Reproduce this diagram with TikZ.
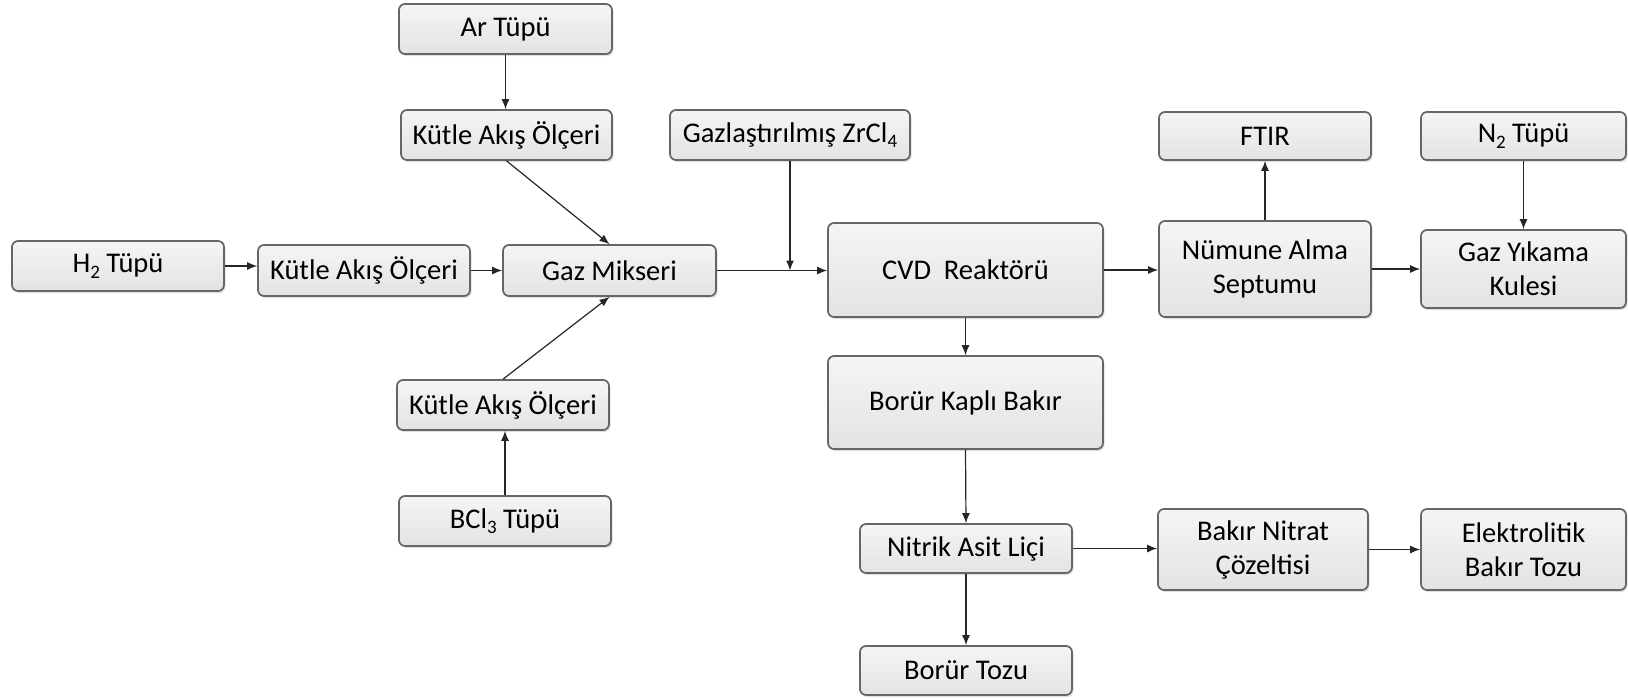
\documentclass[tikz,border=0pt]{standalone}
\usepackage{fontspec}
\setmainfont{Carlito}
\usetikzlibrary{arrows.meta,shadows}
\newcommand\lowidx[1]{\raisebox{-0.4ex}{\fontsize{19}{19}\selectfont #1}}
\begin{document}
\begin{tikzpicture}[x=1pt,y=-1pt,
  bx/.style={draw=black!60, line width=1.7pt, rounded corners=6pt,
    top color=gray!8, bottom color=gray!22,
    drop shadow={shadow xshift=1.5pt, shadow yshift=-2pt, opacity=0.25},
    align=center, inner sep=2pt, text=black,
    font=\fontsize{28.5}{34}\selectfont},
  arr/.style={draw=black!85, line width=1.2pt, -{Latex[length=10pt,width=8pt]}}]
\useasboundingbox (0,0) rectangle (1628,697);
\node[bx, minimum width=213pt, minimum height=50pt] (ar)   at (505.5,29)   {Ar Tüpü};
\node[bx, minimum width=211pt, minimum height=50pt] (k1)   at (506.5,135)  {Kütle Akış Ölçeri};
\node[bx, minimum width=240pt, minimum height=50pt] (gzr)  at (790,135)    {Gazlaştırılmış ZrCl\lowidx{4}};
\node[bx, minimum width=212pt, minimum height=48pt] (ftir) at (1265,136)   {FTIR};
\node[bx, minimum width=205pt, minimum height=48pt] (n2)   at (1523.5,136) {N\lowidx{2} Tüpü};
\node[bx, minimum width=212pt, minimum height=50pt] (h2)   at (118,266)    {H\lowidx{2} Tüpü};
\node[bx, minimum width=212pt, minimum height=51pt] (k2)   at (364,270.5)  {Kütle Akış Ölçeri};
\node[bx, minimum width=213pt, minimum height=51pt] (mix)  at (609.5,270.5){Gaz Mikseri};
\node[bx, minimum width=275pt, minimum height=94pt] (cvd)  at (965.5,270)  {CVD\ \ Reaktörü};
\node[bx, minimum width=212pt, minimum height=96pt] (num)  at (1265,269)   {Nümune Alma\\Septumu};
\node[bx, minimum width=205pt, minimum height=78pt] (gy)   at (1523.5,269) {Gaz Yıkama\\Kulesi};
\node[bx, minimum width=275pt, minimum height=93pt] (bkb)  at (965.5,402.5){Borür Kaplı Bakır};
\node[bx, minimum width=212pt, minimum height=50pt] (k3)   at (503,405)    {Kütle Akış Ölçeri};
\node[bx, minimum width=212pt, minimum height=50pt] (bcl)  at (505,521)    {BCl\lowidx{3} Tüpü};
\node[bx, minimum width=212pt, minimum height=49pt] (nit)  at (966,548.5)  {Nitrik Asit Liçi};
\node[bx, minimum width=210pt, minimum height=81pt] (bn)   at (1263,549.5) {Bakır Nitrat\\Çözeltisi};
\node[bx, minimum width=205pt, minimum height=81pt] (el)   at (1523.5,549.5){Elektrolitik\\Bakır Tozu};
\node[bx, minimum width=212pt, minimum height=49pt] (bt)   at (966,670.5)  {Borür Tozu};
\coordinate (j) at (gzr.south |- mix.east);
\draw[arr] (ar.south) -- (ar.south |- k1.north);
\draw[arr] (k1.south) -- (mix.north);
\draw[arr] (k3.north) -- (mix.south);
\draw[arr] (bcl.north) -- (bcl.north |- k3.south);
\draw[arr] (h2.east) -- (h2.east -| k2.west);
\draw[arr] (k2.east) -- (mix.west);
\draw[arr] (mix.east) -- (mix.east -| cvd.west);
\draw[arr] (gzr.south) -- (j);
\draw[arr] (cvd.east) -- (cvd.east -| num.west);
\draw[arr] (num.north) -- (ftir.south);
\draw[arr] (num.east) -- (num.east -| gy.west);
\draw[arr] (n2.south) -- (n2.south |- gy.north);
\draw[arr] (cvd.south) -- (bkb.north);
\draw[arr] (bkb.south) -- (nit.north);
\draw[arr] (nit.south) -- (bt.north);
\draw[arr] (nit.east) -- (nit.east -| bn.west);
\draw[arr] (bn.east) -- (bn.east -| el.west);
\end{tikzpicture}
\end{document}
